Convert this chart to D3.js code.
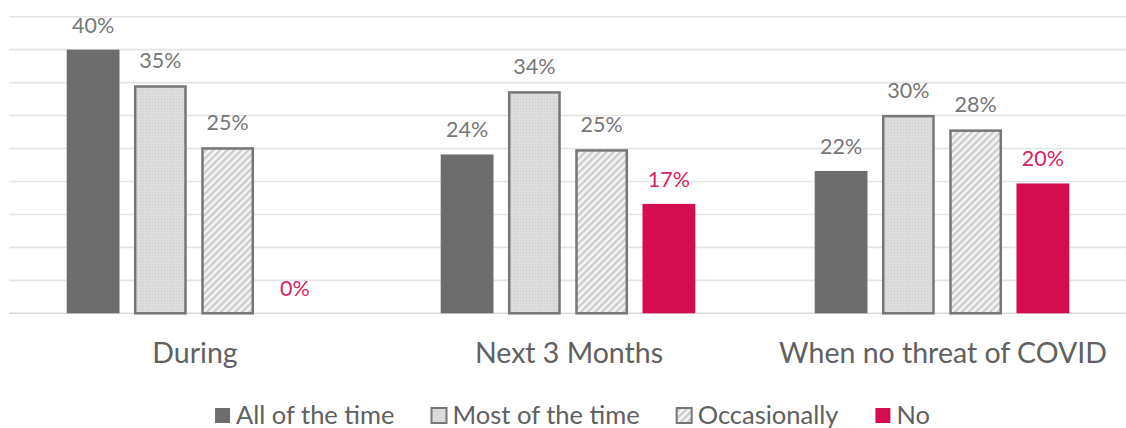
<!DOCTYPE html>
<html>
<head>
<meta charset="utf-8">
<script src="https://cdn.jsdelivr.net/npm/d3@7"></script>
<style>
  html, body { margin: 0; padding: 0; background: #fff; }
  svg { display: block; }
  text { font-family: Lato, "Open Sans", sans-serif; }
</style>
</head>
<body>
<svg id="chart" width="1126" height="428"></svg>
<script>
// ---- data ----
const categories = ["During", "Next 3 Months", "When no threat of COVID"];
const seriesNames = ["All of the time", "Most of the time", "Occasionally", "No"];
const allOfTheTime = [40.0, 24.1, 21.6];
const mostOfTheTime = [34.6, 33.7, 30.1];
const occasionally = [25.2, 24.9, 27.9];
const no = [0, 16.6, 19.7];
const yTicks = [0, 5, 10, 15, 20, 25, 30, 35, 40, 45];

const seriesValues = [allOfTheTime, mostOfTheTime, occasionally, no];

// ---- setup ----
const W = 1126, H = 428;
const svg = d3.select("#chart");
const defs = svg.append("defs");

// dotted pattern (Most of the time)
const dots = defs.append("pattern").attr("id", "dots")
  .attr("patternUnits", "userSpaceOnUse").attr("width", 3).attr("height", 3);
dots.append("rect").attr("width", 3).attr("height", 3).attr("fill", "#dbdbdb");
dots.append("rect").attr("x", 0).attr("y", 0).attr("width", 1).attr("height", 1).attr("fill", "#cdcdcd");
dots.append("rect").attr("x", 1.5).attr("y", 1.5).attr("width", 1).attr("height", 1).attr("fill", "#e4e4e4");

// diagonal stripes (Occasionally)
const stripes = defs.append("pattern").attr("id", "stripes")
  .attr("patternUnits", "userSpaceOnUse").attr("width", 5).attr("height", 5)
  .attr("patternTransform", "rotate(45)");
stripes.append("rect").attr("width", 5).attr("height", 5).attr("fill", "#f6f6f6");
stripes.append("rect").attr("width", 2.4).attr("height", 5).attr("fill", "#cdcdcd");

const fills = ["#6d6d6d", "url(#dots)", "url(#stripes)", "#d40c50"];
const strokes = [null, "#767676", "#767676", null];
const labelColors = ["#777777", "#777777", "#777777", "#d6245e"];

// ---- scales ----
const y = d3.scaleLinear().domain([0, 45]).range([313.3, 16.7]);
const x0 = d3.scaleBand().domain(categories).range([8, 1130]).padding(0);
const x1 = d3.scaleBand().domain(seriesNames).range([58.7, 313.3]).paddingInner(0.215).paddingOuter(0);

// ---- gridlines ----
const grid = svg.append("g");
grid.selectAll("line.g").data(yTicks.filter(t => t > 0)).join("line")
  .attr("x1", 9).attr("x2", W)
  .attr("y1", d => y(d)).attr("y2", d => y(d))
  .attr("stroke", "#e4e4e4").attr("stroke-width", 1.6);
grid.append("line")
  .attr("x1", 9).attr("x2", W)
  .attr("y1", y(0)).attr("y2", y(0))
  .attr("stroke", "#d9d9d9").attr("stroke-width", 1.6);

// ---- bars ----
const groups = svg.append("g").selectAll("g").data(categories).join("g")
  .attr("transform", d => `translate(${x0(d)},0)`);

groups.each(function(cat, ci) {
  const g = d3.select(this);
  seriesNames.forEach((s, si) => {
    const v = seriesValues[si][ci];
    const bx = x1(s), bw = x1.bandwidth();
    if (v > 0) {
      if (strokes[si]) {
        g.append("rect")
          .attr("x", bx + 1.25).attr("y", y(v) + 1.25)
          .attr("width", bw - 2.5).attr("height", y(0) - y(v) - 1.25)
          .attr("fill", fills[si]).attr("stroke", strokes[si]).attr("stroke-width", 2.5);
      } else {
        g.append("rect")
          .attr("x", bx).attr("y", y(v))
          .attr("width", bw).attr("height", y(0) - y(v))
          .attr("fill", fills[si]);
      }
    }
    g.append("text")
      .attr("x", bx + bw / 2).attr("y", y(v) - 17)
      .attr("text-anchor", "middle")
      .attr("font-size", 21.5)
      .attr("fill", labelColors[si])
      .text(Math.round(v) + "%");
  });
});

// ---- category axis labels ----
svg.append("g").selectAll("text").data(categories).join("text")
  .attr("x", d => x0(d) + x0.bandwidth() / 2)
  .attr("y", 363)
  .attr("text-anchor", "middle")
  .attr("font-size", 28.5)
  .attr("fill", "#606060")
  .text(d => d);

// ---- legend ----
const legend = svg.append("g");
const items = legend.selectAll("g").data(seriesNames).join("g");
items.append("rect")
  .attr("width", 15).attr("height", 15)
  .attr("y", 408)
  .attr("fill", (d, i) => fills[i])
  .attr("stroke", (d, i) => strokes[i] ? strokes[i] : "none")
  .attr("stroke-width", (d, i) => strokes[i] ? 2 : 0);
items.append("text")
  .attr("x", 21).attr("y", 423.5)
  .attr("font-size", 25.5)
  .attr("fill", "#606060")
  .text(d => d);
let cx = 0;
const positions = [];
items.each(function(d, i) {
  const tw = d3.select(this).select("text").node().getComputedTextLength();
  positions.push(cx);
  cx += 21 + tw + 37;
});
const totalW = cx - 37;
const startX = 572.5 - totalW / 2;
items.attr("transform", (d, i) => `translate(${startX + positions[i]},0)`);
</script>
</body>
</html>
